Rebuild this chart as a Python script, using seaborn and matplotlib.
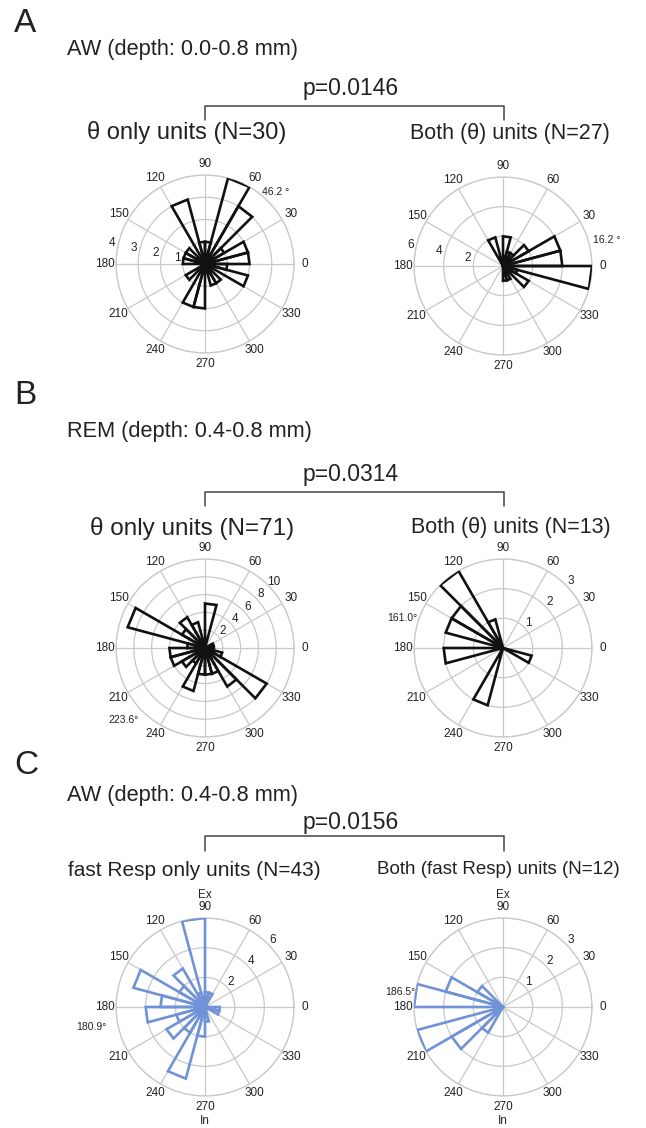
import numpy as np
import matplotlib
matplotlib.use("Agg")
import matplotlib.pyplot as plt
from matplotlib.lines import Line2D
import seaborn as sns

W, H = 646, 1128
BIN_DEG = 15
ANGLE_TICKS = list(range(0, 360, 30))

# unit counts per 15 deg bin, bin 0 = [0, 15) deg, counter-clockwise
A_THETA_ONLY = [2, 2, 1, 3, 4, 1, 1, 3, 0, 1, 1, 1, 0, 0, 1, 0, 2, 2, 0, 1, 1, 0, 2, 1]
A_BOTH = [4, 4, 2, 1, 1, 2, 0, 2, 0, 0, 0, 0, 0, 0, 0, 0, 0, 0, 1, 1, 0, 2, 1, 6]
B_THETA_ONLY = [1, 1, 0, 0, 0, 5, 1, 3, 4, 3, 9, 2, 4, 4, 3, 2, 5, 3, 3, 3, 5, 8, 2, 0]
B_BOTH = [0, 0, 0, 0, 0, 0, 0, 1, 3, 2, 2, 0, 2, 0, 0, 0, 2, 0, 0, 0, 0, 0, 1, 0]
C_RESP_ONLY = [0, 0, 0, 0, 1, 1, 6, 1, 3, 2, 5, 3, 4, 2, 3, 2, 5, 2, 1, 0, 0, 0, 1, 1]
C_BOTH = [0, 0, 0, 0, 0, 0, 0, 0, 0, 1, 2, 3, 0, 3, 2, 1, 0, 0, 0, 0, 0, 0, 0, 0]

BLACK = "#111111"
BLUE = "#7092d6"
GRID = "#c8c8c8"
TXT = "#222222"
R_PX = 89  # outer circle radius in pixels

sns.set_theme(style="white")
plt.rcParams["font.family"] = ["Liberation Sans", "DejaVu Sans"]

# (counts, rmax, rstep, radial label angle, colour, centre px, mean label, mean label px)
PANELS = [
    (A_THETA_ONLY, 4, 1, 167, BLACK, (205, 264), "46.2 °", (276, 192)),
    (A_BOTH, 6, 2, 167, BLACK, (503, 266), "16.2 °", (607, 240)),
    (B_THETA_ONLY, 10, 2, 44, BLACK, (205, 648), "223.6°", (124, 720)),
    (B_BOTH, 3, 1, 45, BLACK, (503, 648), "161.0°", (402, 618)),
    (C_RESP_ONLY, 6, 2, 45, BLUE, (205, 1007), "180.9°", (91, 1027)),
    (C_BOTH, 3, 1, 45, BLUE, (503, 1007), "186.5°", (400, 992)),
]


def fx(x):
    return x / W


def fy(y):
    return 1 - y / H


def rose(fig, counts, rmax, rstep, lab_ang, color, center, mean_txt, mean_xy):
    cx, cy = center
    ax = fig.add_axes([fx(cx - R_PX), fy(cy + R_PX), 2 * R_PX / W, 2 * R_PX / H],
                      projection="polar")
    ax.set_facecolor("none")
    ax.set_ylim(0, rmax)
    ax.set_xticks(np.deg2rad(ANGLE_TICKS))
    ax.set_xticklabels([])
    ax.set_yticks(np.arange(rstep, rmax + 0.01, rstep))
    ax.set_yticklabels([])
    ax.grid(True, color=GRID, lw=0.9)
    ax.spines["polar"].set_color(GRID)
    ax.spines["polar"].set_linewidth(0.9)

    for i, c in enumerate(counts):
        if c == 0:
            continue
        t1 = np.deg2rad(i * BIN_DEG)
        t2 = np.deg2rad((i + 1) * BIN_DEG)
        ax.plot([0, t1, t2, 0], [0, c, c, 0], color=color, lw=1.9,
                solid_joinstyle="miter", zorder=5)

    for a in ANGLE_TICKS:
        ax.text(np.deg2rad(a), rmax * 1.12, str(a), ha="center", va="center",
                fontsize=8.5, color=TXT)
    for r in np.arange(rstep, rmax + 0.01, rstep):
        ax.text(np.deg2rad(lab_ang), r + 0.07 * rmax, f"{r:g}", ha="center",
                va="center", fontsize=8.5, color=TXT, zorder=6)
    fig.text(fx(mean_xy[0]), fy(mean_xy[1]), mean_txt, ha="center", va="center",
             fontsize=7.5, color=TXT)
    return ax


def bracket(fig, y_top, y_bot, x1=205, x2=504):
    xs = [fx(x1), fx(x1), fx(x2), fx(x2)]
    ys = [fy(y_bot), fy(y_top), fy(y_top), fy(y_bot)]
    fig.add_artist(Line2D(xs, ys, color="#444444", lw=1.1))


fig = plt.figure(figsize=(W / 100, H / 100), dpi=100)
fig.patch.set_facecolor("white")

for p in PANELS:
    rose(fig, *p)

# panel letters and headings
for letter, y in [("A", 23), ("B", 396), ("C", 765)]:
    fig.text(fx(14), fy(y), letter, fontsize=24, ha="left", va="center", color=TXT)

for txt, y in [("AW (depth: 0.0-0.8 mm)", 49), ("REM (depth: 0.4-0.8 mm)", 432),
               ("AW (depth: 0.4-0.8 mm)", 795)]:
    fig.text(fx(67), fy(y), txt, fontsize=15.7, ha="left", va="center", color=TXT)

for txt, y in [("p=0.0146", 88), ("p=0.0314", 474), ("p=0.0156", 822)]:
    fig.text(fx(351), fy(y), txt, fontsize=16.5, ha="center", va="center", color=TXT)

bracket(fig, 106, 120)
bracket(fig, 492, 506)
bracket(fig, 836, 851)

fig.text(fx(187), fy(133), "θ only units (N=30)", fontsize=17, ha="center", va="center", color=TXT)
fig.text(fx(510), fy(133), "Both (θ) units (N=27)", fontsize=15.5, ha="center", va="center", color=TXT)
fig.text(fx(192), fy(528), "θ only units (N=71)", fontsize=17.5, ha="center", va="center", color=TXT)
fig.text(fx(511), fy(528), "Both (θ) units (N=13)", fontsize=15.5, ha="center", va="center", color=TXT)

fig.text(fx(194), fy(871), "fast Resp only units (N=43)", fontsize=15, ha="center",
         va="center", color=TXT)
fig.text(fx(498), fy(869), "Both (fast Resp) units (N=12)", fontsize=13.5, ha="center",
         va="center", color=TXT)

for x in (205, 503):
    fig.text(fx(x), fy(895), "Ex", fontsize=8.5, ha="center", va="center", color=TXT)
    fig.text(fx(x), fy(1121), "In", fontsize=8.5, ha="center", va="center", color=TXT)

fig.savefig("out.png", dpi=100, facecolor="white")
